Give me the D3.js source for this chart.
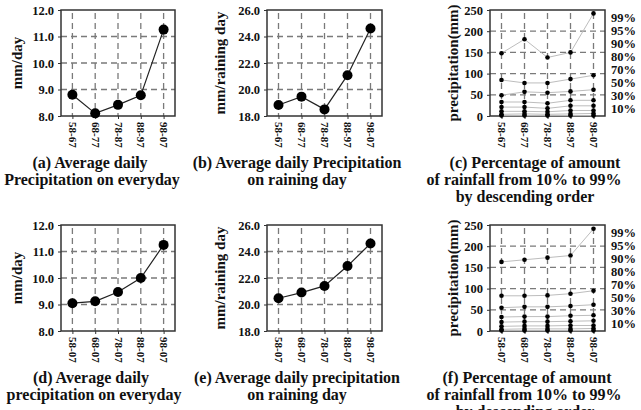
<!DOCTYPE html>
<html>
<head>
<meta charset="utf-8">
<script src="https://cdn.jsdelivr.net/npm/d3@7"></script>
<style>
  body { margin: 0; background: #fff; }
  svg { display: block; }
  text { font-family: "Liberation Serif", "Times New Roman", serif; font-weight: bold; fill: #111; }
</style>
</head>
<body>
<svg width="641" height="410"></svg>
<script>
// periods
var periodsTop = ['58-67', '68-77', '78-87', '88-97', '98-07'];
var periodsBottom = ['58-07', '68-07', '78-07', '88-07', '98-07'];

// average daily precipitation (mm/day)
var dailyTop = [8.8, 8.1, 8.42, 8.78, 11.26];
var dailyBottom = [9.05, 9.12, 9.47, 10.0, 11.25];

// average precipitation on raining day (mm/raining day)
var rainyTop = [18.83, 19.46, 18.5, 21.08, 24.6];
var rainyBottom = [20.47, 20.9, 21.4, 22.9, 24.6];

// percentiles (descending) and the amounts for each period
var pctLabels = ['99%', '95%', '90%', '80%', '70%', '50%', '30%', '10%'];
var pctTop = [
  [148, 181, 138, 150, 242],
  [85, 78, 78, 87, 96],
  [49, 57, 55, 58, 62],
  [33, 33, 30, 37, 37],
  [21, 21, 18, 24, 24],
  [11, 11, 10, 13, 13],
  [4, 5, 4, 5, 6],
  [1, 1, 1, 1, 1]
];
var pctBottom = [
  [163, 168, 173, 178, 241],
  [83, 83, 84, 88, 95],
  [55, 57, 57, 59, 62],
  [33, 34, 34, 36, 37],
  [21, 22, 22, 23, 24],
  [11, 12, 12, 13, 13],
  [4, 5, 5, 5, 6],
  [1, 1, 1, 1, 1]
];

// tick values
var ticksDaily = [8, 9, 10, 11, 12];
var ticksRainy = [18, 20, 22, 24, 26];
var ticksPct = [0, 50, 100, 150, 200, 250];

var svg = d3.select('svg');

function frame(g, box, cats, ticks, fmt) {
  var x = d3.scalePoint().domain(cats).range([box.x0, box.x1]).padding(0.5);
  var y = d3.scaleLinear().domain([ticks[0], ticks[ticks.length - 1]]).range([box.y1, box.y0]);

  // dashed grid
  g.selectAll('.hg').data(ticks.slice(1, -1)).enter().append('line')
    .attr('x1', box.x0).attr('x2', box.x1)
    .attr('y1', function (d) { return y(d); })
    .attr('y2', function (d) { return y(d); })
    .attr('stroke', '#7a7a7a').attr('stroke-width', 1.3)
    .attr('stroke-dasharray', '6,4');
  g.selectAll('.vg').data(cats).enter().append('line')
    .attr('x1', function (d) { return x(d); })
    .attr('x2', function (d) { return x(d); })
    .attr('y1', box.y0 + 3).attr('y2', box.y1)
    .attr('stroke', '#7a7a7a').attr('stroke-width', 1.3)
    .attr('stroke-dasharray', '6,4');

  var ya = g.append('g').attr('transform', 'translate(' + box.x0 + ',0)')
    .call(d3.axisLeft(y).tickValues(ticks).tickFormat(fmt).tickSize(3).tickPadding(4));
  ya.select('.domain').remove();
  ya.selectAll('line').attr('stroke', '#333');
  ya.selectAll('text').attr('font-size', 12.5).attr('fill', '#111')
    .attr('font-family', '"Liberation Serif", serif');

  var xa = g.append('g').attr('transform', 'translate(0,' + box.y1 + ')')
    .call(d3.axisBottom(x).tickSize(3));
  xa.select('.domain').remove();
  xa.selectAll('line').attr('stroke', '#333');
  xa.selectAll('text')
    .attr('font-size', 11).attr('fill', '#111')
    .attr('font-family', '"Liberation Serif", serif')
    .attr('text-anchor', 'start')
    .attr('transform', 'rotate(90)')
    .attr('x', 6).attr('y', 0).attr('dy', '0.35em');

  g.append('rect')
    .attr('x', box.x0).attr('y', box.y0)
    .attr('width', box.x1 - box.x0).attr('height', box.y1 - box.y0)
    .attr('fill', 'none').attr('stroke', '#333').attr('stroke-width', 1.5);

  return { x: x, y: y };
}

function yLabel(g, text, cx, cy) {
  g.append('text').text(text)
    .attr('transform', 'translate(' + cx + ',' + cy + ') rotate(-90)')
    .attr('text-anchor', 'middle').attr('dy', '0.35em')
    .attr('font-size', 15);
}

function caption(g, lines, xs, y) {
  lines.forEach(function (t, i) {
    g.append('text').text(t)
      .attr('x', xs[i]).attr('y', y + i * 17)
      .attr('text-anchor', 'middle').attr('font-size', 16);
  });
}

function linePanel(box, cats, values, ticks, label, lx) {
  var g = svg.append('g');
  var s = frame(g, box, cats, ticks, d3.format('.1f'));
  var line = d3.line()
    .x(function (d, i) { return s.x(cats[i]); })
    .y(function (d) { return s.y(d); });
  g.append('path').datum(values)
    .attr('d', line).attr('fill', 'none')
    .attr('stroke', '#222').attr('stroke-width', 1.2);
  g.selectAll('.pt').data(values).enter().append('circle')
    .attr('cx', function (d, i) { return s.x(cats[i]); })
    .attr('cy', function (d) { return s.y(d); })
    .attr('r', 5).attr('fill', '#000');
  yLabel(g, label, lx, (box.y0 + box.y1) / 2);
  return g;
}

function pctPanel(box, cats, series, ticks) {
  var g = svg.append('g');
  var s = frame(g, box, cats, ticks, d3.format('d'));
  var line = d3.line()
    .x(function (d, i) { return s.x(cats[i]); })
    .y(function (d) { return s.y(d); });
  series.forEach(function (vals) {
    g.append('path').datum(vals)
      .attr('d', line).attr('fill', 'none')
      .attr('stroke', '#bdbdbd').attr('stroke-width', 1);
  });
  series.forEach(function (vals) {
    g.selectAll(null).data(vals).enter().append('circle')
      .attr('cx', function (d, i) { return s.x(cats[i]); })
      .attr('cy', function (d) { return s.y(d); })
      .attr('r', 2.3).attr('fill', '#000');
  });
  var ly = d3.scalePoint().domain(pctLabels).range([box.y0 + 8, box.y0 + 99]);
  g.selectAll('.pl').data(pctLabels).enter().append('text')
    .text(function (d) { return d; })
    .attr('x', box.x1 + 6)
    .attr('y', function (d) { return ly(d); })
    .attr('dy', '0.35em').attr('font-size', 12.5);
  yLabel(g, 'precipitation(mm)', 453, (box.y0 + box.y1) / 2);
  return g;
}

var rowTop = { y0: 10, y1: 116 };
var rowBot = { y0: 225, y1: 331 };
function bx(x0, x1, r) { return { x0: x0, x1: x1, y0: r.y0, y1: r.y1 }; }

var ga = linePanel(bx(61, 175, rowTop), periodsTop, dailyTop, ticksDaily, 'mm/day', 17);
caption(ga, ['(a) Average daily', 'Precipitation on everyday'], [90, 92], 168);

var gb = linePanel(bx(267, 382, rowTop), periodsTop, rainyTop, ticksRainy, 'mm/raining day', 220);
caption(gb, ['(b) Average daily Precipitation', 'on raining day'], [297, 297], 168);

var gc = pctPanel(bx(490, 605, rowTop), periodsTop, pctTop, ticksPct);
caption(gc, ['(c) Percentage of amount', 'of rainfall from 10% to 99%', 'by descending order'], [535, 524, 525], 168);

var gd = linePanel(bx(61, 175, rowBot), periodsBottom, dailyBottom, ticksDaily, 'mm/day', 17);
caption(gd, ['(d) Average daily', 'precipitation on everyday'], [91, 94], 383);

var ge = linePanel(bx(267, 382, rowBot), periodsBottom, rainyBottom, ticksRainy, 'mm/raining day', 220);
caption(ge, ['(e) Average daily precipitation', 'on raining day'], [297, 297], 383);

var gf = pctPanel(bx(490, 605, rowBot), periodsBottom, pctBottom, ticksPct);
caption(gf, ['(f) Percentage of amount', 'of rainfall from 10% to 99%', 'by descending order'], [527, 524, 525], 383);
</script>
</body>
</html>
